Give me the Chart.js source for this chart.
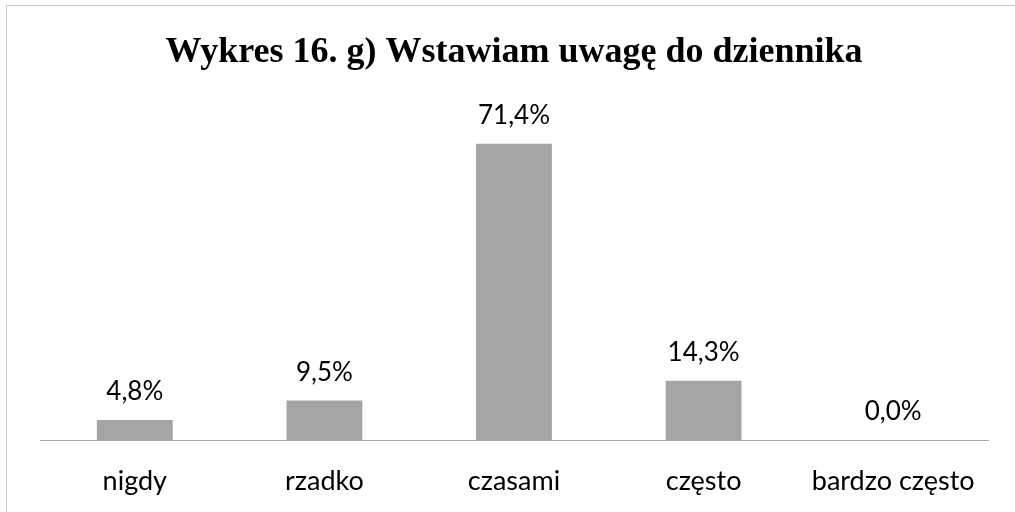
<!DOCTYPE html>
<html><head><meta charset="utf-8">
<script src="https://cdn.jsdelivr.net/npm/chart.js@4/dist/chart.umd.min.js"></script>
<style>
html,body{margin:0;padding:0;background:#fff;overflow:hidden}
#wrap{position:absolute;left:0;top:0;width:1015px;height:512px}
#frame{position:absolute;left:6px;top:5px;width:1020px;height:520px;border:1px solid #c8c8c8;box-sizing:border-box;pointer-events:none}
</style></head>
<body>
<div id="wrap"><canvas id="c" width="1015" height="512"></canvas></div>
<div id="frame"></div>
<script>
const titleText = 'Wykres 16. g) Wstawiam uwagę do dziennika';
const categories = ['nigdy', 'rzadko', 'czasami', 'często', 'bardzo często'];
const values = [4.8, 9.5, 71.4, 14.3, 0.0];
const valueLabels = ['4,8%', '9,5%', '71,4%', '14,3%', '0,0%'];

const labelPlugin = {
  id: 'vlabels',
  afterDatasetsDraw(chart) {
    const ctx = chart.ctx;
    const meta = chart.getDatasetMeta(0);
    ctx.save();
    ctx.font = '26px Lato, "Open Sans", sans-serif';
    ctx.fillStyle = '#000';
    ctx.textAlign = 'center';
    ctx.textBaseline = 'middle';
    meta.data.forEach((bar, i) => {
      ctx.fillText(valueLabels[i], bar.x, bar.y - 28);
    });
    ctx.restore();
  },
  afterDraw(chart) {
    const ctx = chart.ctx;
    const a = chart.chartArea;
    ctx.save();
    ctx.font = 'bold 36px "Liberation Serif", "Times New Roman", serif';
    ctx.fillStyle = '#000';
    ctx.textAlign = 'center';
    ctx.textBaseline = 'alphabetic';
    ctx.fillText(titleText, (a.left + a.right) / 2, 62);
    ctx.restore();
  }
};

new Chart(document.getElementById('c'), {
  type: 'bar',
  data: {
    labels: categories,
    datasets: [{
      data: values,
      backgroundColor: '#a5a5a5',
      borderWidth: 0,
      barPercentage: 0.4,
      categoryPercentage: 1.0
    }]
  },
  options: {
    responsive: false,
    animation: false,
    devicePixelRatio: 1,
    layout: { padding: { left: 40, right: 27, top: 108, bottom: 0 } },
    plugins: {
      legend: { display: false },
      tooltip: { enabled: false },
      title: { display: false }
    },
    scales: {
      x: {
        grid: { display: false, drawTicks: false },
        border: { display: true, color: '#a6a6a6', width: 1 },
        ticks: { color: '#000', padding: 25, font: { family: 'Lato, "Open Sans", sans-serif', size: 27 } },
        afterFit(scale) { scale.height = 72; }
      },
      y: { display: false, min: 0, max: 80 }
    }
  },
  plugins: [labelPlugin]
});
</script>
</body></html>
